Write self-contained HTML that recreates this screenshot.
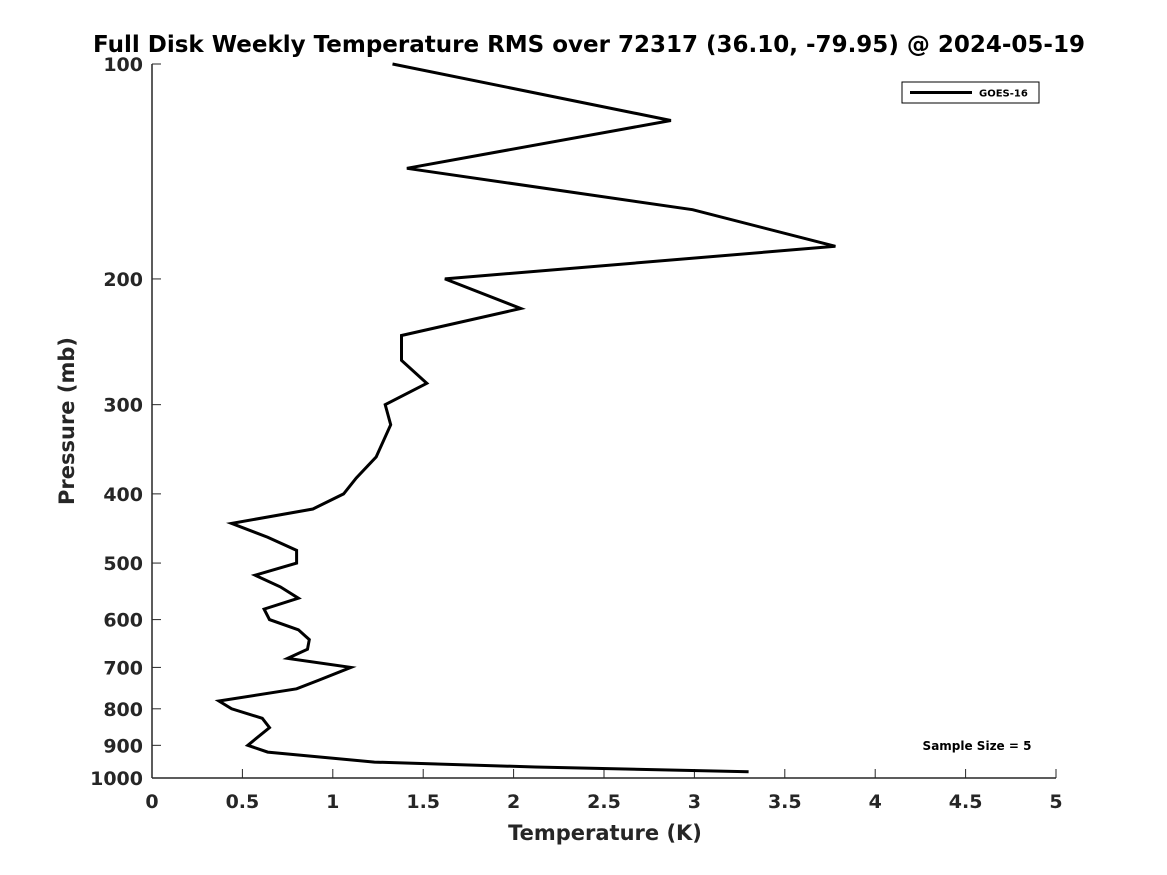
<!DOCTYPE html>
<html><head><meta charset="utf-8"><style>
body{margin:0;background:#fff;}
svg{display:block;font-family:"DejaVu Sans","Liberation Sans",sans-serif;font-weight:bold;}
</style></head><body>
<svg id="chart" width="1167" height="875" viewBox="0 0 1167 875">
<text x="589" y="52" font-size="23" text-anchor="middle" fill="#000">Full Disk Weekly Temperature RMS over 72317 (36.10, -79.95) @ 2024-05-19</text>
<g id="axes"></g>
<text x="605" y="840" font-size="21" text-anchor="middle" fill="#262626">Temperature (K)</text>
<text transform="translate(74,421) rotate(-90)" font-size="21" text-anchor="middle" fill="#262626">Pressure (mb)</text>
<g>
<rect x="902" y="82" width="137" height="21" fill="#fff" stroke="#000" stroke-width="1"/>
<line x1="910" y1="92.5" x2="972" y2="92.5" stroke="#000" stroke-width="3"/>
<text x="979" y="96.5" font-size="10" fill="#000">GOES-16</text>
</g>
<text x="977" y="750" font-size="12" text-anchor="middle" fill="#000">Sample Size = 5</text>
</svg>
<script>
const xTicks=[0,0.5,1,1.5,2,2.5,3,3.5,4,4.5,5];
const xTickLabels=["0","0.5","1","1.5","2","2.5","3","3.5","4","4.5","5"];
const yTicks=[100,200,300,400,500,600,700,800,900,1000];
const yTickLabels=["100","200","300","400","500","600","700","800","900","1000"];
const pressures=[100,120,140,160,180,200,220,240,260,280,300,320,355,380,400,420,440,460,480,500,520,540,560,580,600,620,640,660,680,700,730,750,780,800,825,850,900,920,950,965,980];
const temps=[1.33,2.87,1.41,2.99,3.78,1.62,2.04,1.38,1.38,1.52,1.29,1.32,1.24,1.13,1.06,0.89,0.44,0.64,0.80,0.80,0.57,0.71,0.81,0.62,0.65,0.81,0.87,0.86,0.75,1.10,0.92,0.80,0.37,0.44,0.61,0.65,0.53,0.64,1.23,2.12,3.30];
const X0=152,X1=1056,Y0=64,Y1=778;
const xs=v=>X0+(v-0)/(5-0)*(X1-X0);
const ys=p=>Y0+(Math.log10(p)-2)*(Y1-Y0);
const NS="http://www.w3.org/2000/svg";
const g=document.getElementById('axes');
function mk(t,a){const e=document.createElementNS(NS,t);for(const k in a)e.setAttribute(k,a[k]);g.appendChild(e);return e;}
let e=mk('line',{x1:X0,y1:Y0,x2:X0,y2:Y1,stroke:'#262626','stroke-width':1.5});


e=mk('line',{x1:X0,y1:Y1,x2:X1,y2:Y1,stroke:'#262626','stroke-width':1.5});


xTicks.forEach((v,i)=>{
 const x=xs(v);
 let t=mk('line',{x1:x,y1:Y1,x2:x,y2:Y1-9,stroke:'#262626','stroke-width':1});
 
 
 let l=mk('text',{x:x,y:808,'font-size':19,'text-anchor':'middle',fill:'#262626'});
 l.textContent=xTickLabels[i];
 
 
});
yTicks.forEach((v,i)=>{
 const y=ys(v);
 let t=mk('line',{x1:X0,y1:y,x2:X0+9,y2:y,stroke:'#262626','stroke-width':1});
 
 
 let l=mk('text',{x:143,y:y+7,'font-size':19,'text-anchor':'end',fill:'#262626'});
 l.textContent=yTickLabels[i];
 
 
});
const pts=temps.map((t,i)=>xs(t).toFixed(1)+','+ys(pressures[i]).toFixed(1)).join(' ');
const line=mk('polyline',{points:pts,fill:'none',stroke:'#000','stroke-width':3,'stroke-linejoin':'miter'});


</script>
</body></html>
